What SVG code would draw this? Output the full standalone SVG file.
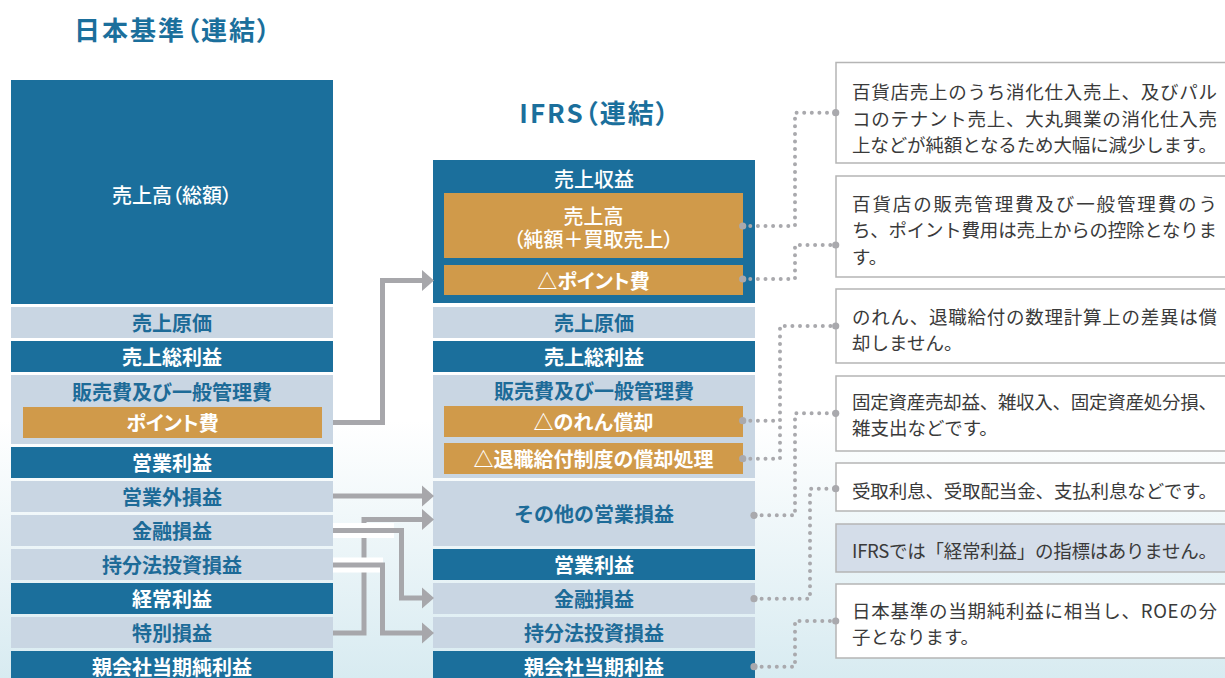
<svg xmlns="http://www.w3.org/2000/svg" width="1225" height="678" viewBox="0 0 1225 678">
<defs>
<linearGradient id="bg" x1="0" y1="0" x2="0" y2="1">
<stop offset="0" stop-color="#ffffff"/>
<stop offset="0.62" stop-color="#ffffff"/>
<stop offset="1" stop-color="#d8ebf1"/>
</linearGradient>
<marker id="ah" markerUnits="userSpaceOnUse" markerWidth="13" markerHeight="22" refX="0" refY="10.5" orient="auto" overflow="visible">
<path d="M0,0 L12,10.5 L0,21 Z" fill="#a7a7ab"/>
</marker>
<style>
.dk{fill:#1b6f9c}
.lt{fill:#c9d6e3}
.gd{fill:#d09a4a}
.t{font-family:"Noto Sans CJK JP","Noto Sans",sans-serif;text-anchor:middle;dominant-baseline:central;font-size:20px;font-weight:bold}
.tw{fill:#ffffff}
.tb{fill:#1d6b98}
.tm{font-weight:500;font-feature-settings:"palt"}
.pk{font-feature-settings:"palt"}
.hd{font-family:"Noto Sans CJK JP","Noto Sans",sans-serif;font-size:26px;font-weight:bold;fill:#1b6f9c;text-anchor:middle;dominant-baseline:central;letter-spacing:2px;font-feature-settings:"palt"}
.arr{fill:none;stroke:#a7a7ab;stroke-width:5;marker-end:url(#ah)}
.halo{fill:#ffffff}
.dot{fill:none;stroke:#a9a9ad;stroke-width:4;stroke-linecap:round;stroke-dasharray:0 7.6}
.bd{fill:#a9a9ad}
.nb{fill:#ffffff;stroke:#b5b5b5;stroke-width:1.5}
.nb2{fill:#d4dde9;stroke:#b5b5b5;stroke-width:1.5}
.nt{font-family:"Noto Sans CJK JP","Noto Sans",sans-serif;font-size:18.5px;fill:#3a3a3a;dominant-baseline:central}
</style>
</defs>
<rect x="0" y="0" width="1225" height="678" fill="url(#bg)"/>

<g id="headers">
<text class="hd" x="173" y="28">日本基準（連結）</text>
<text class="hd" x="595" y="111">IFRS（連結）</text>
</g>

<g id="jgaap">
<g id="j-sales"><rect class="dk" x="11" y="80" width="322" height="224"/><text class="t tw tm" x="172" y="194">売上高（総額）</text></g>
<g id="j-cogs"><rect class="lt" x="11" y="307" width="322" height="31"/><text class="t tb" x="172" y="322.5">売上原価</text></g>
<g id="j-gross"><rect class="dk" x="11" y="341" width="322" height="31"/><text class="t tw" x="172" y="356.5">売上総利益</text></g>
<g id="j-sga"><rect class="lt" x="11" y="375" width="322" height="69"/><text class="t tb" x="172" y="391">販売費及び一般管理費</text></g>
<g id="j-point"><rect class="gd" x="23" y="407" width="299" height="31"/><text class="t tw pk" x="172.5" y="422.5">ポイント費</text></g>
<g id="j-op"><rect class="dk" x="11" y="447" width="322" height="31"/><text class="t tw" x="172" y="462.5">営業利益</text></g>
<g id="j-nonop"><rect class="lt" x="11" y="481" width="322" height="31"/><text class="t tb" x="172" y="496.5">営業外損益</text></g>
<g id="j-fin"><rect class="lt" x="11" y="515" width="322" height="31"/><text class="t tb" x="172" y="530.5">金融損益</text></g>
<g id="j-eq"><rect class="lt" x="11" y="549" width="322" height="31"/><text class="t tb" x="172" y="564.5">持分法投資損益</text></g>
<g id="j-ord"><rect class="dk" x="11" y="583" width="322" height="31"/><text class="t tw" x="172" y="598.5">経常利益</text></g>
<g id="j-ext"><rect class="lt" x="11" y="617" width="322" height="31"/><text class="t tb" x="172" y="632.5">特別損益</text></g>
<g id="j-net"><rect class="dk" x="11" y="651" width="322" height="31"/><text class="t tw" x="172" y="666.5">親会社当期純利益</text></g>
</g>

<g id="ifrs">
<g id="i-rev"><rect class="dk" x="433" y="160" width="322" height="143"/><text class="t tw tm" x="594" y="178.5">売上収益</text></g>
<g id="i-sales"><rect class="gd" x="444" y="193" width="299" height="65"/><text class="t tw tm" x="593.5" y="215.5">売上高</text><text class="t tw tm" x="593.5" y="238.5">（純額＋買取売上）</text></g>
<g id="i-point"><rect class="gd" x="444" y="265" width="299" height="30"/><text class="t tw pk" x="593.5" y="280">△ポイント費</text></g>
<g id="i-cogs"><rect class="lt" x="433" y="307" width="322" height="31"/><text class="t tb" x="594" y="322.5">売上原価</text></g>
<g id="i-gross"><rect class="dk" x="433" y="341" width="322" height="31"/><text class="t tw" x="594" y="356.5">売上総利益</text></g>
<g id="i-sga"><rect class="lt" x="433" y="375" width="322" height="103"/><text class="t tb" x="594" y="390">販売費及び一般管理費</text></g>
<g id="i-gw"><rect class="gd" x="444" y="406" width="299" height="31"/><text class="t tw" x="593.5" y="421.5">△のれん償却</text></g>
<g id="i-ret"><rect class="gd" x="444" y="443" width="299" height="31"/><text class="t tw" x="593.5" y="458.5">△退職給付制度の償却処理</text></g>
<g id="i-other"><rect class="lt" x="433" y="481" width="322" height="65"/><text class="t tb" x="594" y="513.5">その他の営業損益</text></g>
<g id="i-op"><rect class="dk" x="433" y="549" width="322" height="31"/><text class="t tw" x="594" y="564.5">営業利益</text></g>
<g id="i-fin"><rect class="lt" x="433" y="583" width="322" height="31"/><text class="t tb" x="594" y="598.5">金融損益</text></g>
<g id="i-eq"><rect class="lt" x="433" y="617" width="322" height="31"/><text class="t tb" x="594" y="632.5">持分法投資損益</text></g>
<g id="i-net"><rect class="dk" x="433" y="651" width="322" height="31"/><text class="t tw" x="594" y="666.5">親会社当期利益</text></g>
</g>

<g id="notes">
<g id="n1"><rect class="nb" x="836" y="62.5" width="400" height="100.5"/>
<text class="nt" x="852" y="91" textLength="365" lengthAdjust="spacing">百貨店売上のうち消化仕入売上、及びパル</text>
<text class="nt" x="852" y="117.5" textLength="365" lengthAdjust="spacing">コのテナント売上、大丸興業の消化仕入売</text>
<text class="nt" x="852" y="144" textLength="365" lengthAdjust="spacing">上などが純額となるため大幅に減少します。</text></g>
<g id="n2"><rect class="nb" x="836" y="176" width="400" height="101"/>
<text class="nt" x="852" y="202.5" textLength="365" lengthAdjust="spacing">百貨店の販売管理費及び一般管理費のう</text>
<text class="nt" x="852" y="229" textLength="365" lengthAdjust="spacing">ち、ポイント費用は売上からの控除となりま</text>
<text class="nt" x="852" y="255.5">す。</text></g>
<g id="n3"><rect class="nb" x="836" y="289" width="400" height="74"/>
<text class="nt" x="852" y="316" textLength="365" lengthAdjust="spacing">のれん、退職給付の数理計算上の差異は償</text>
<text class="nt" x="852" y="342">却しません。</text></g>
<g id="n4"><rect class="nb" x="836" y="376" width="400" height="75"/>
<text class="nt" x="852" y="400.5" textLength="365" lengthAdjust="spacing">固定資産売却益、雑収入、固定資産処分損、</text>
<text class="nt" x="852" y="427">雑支出などです。</text></g>
<g id="n5"><rect class="nb" x="836" y="463" width="400" height="48"/>
<text class="nt" x="852" y="489.5" textLength="365" lengthAdjust="spacing">受取利息、受取配当金、支払利息などです。</text></g>
<g id="n6"><rect class="nb2" x="836" y="524" width="400" height="48"/>
<text class="nt" x="852" y="550" textLength="365" lengthAdjust="spacing">IFRSでは「経常利益」の指標はありません。</text></g>
<g id="n7"><rect class="nb" x="836" y="584" width="400" height="74"/>
<text class="nt" x="852" y="609.5" textLength="365" lengthAdjust="spacing">日本基準の当期純利益に相当し、ROEの分</text>
<text class="nt" x="852" y="636">子となります。</text></g>
</g>

<g id="connectors">
<path class="arr" d="M333,422.5 H382.5 V280.5 H422"/>
<path class="arr" d="M333,496 H422"/>
<path class="arr" d="M333,633 H364 V519.5 H422"/>
<rect class="halo" x="333" y="523" width="61" height="15"/>
<path class="arr" d="M333,530.5 H401.5 V598 H422"/>
<rect class="halo" x="333" y="557.5" width="50" height="15"/>
<path class="arr" d="M333,565 H382.5 V633 H422"/>

<path class="dot" d="M742.7,226 H795 V112.7 H835.7"/>
<path class="dot" d="M742.7,279 H795 V245 H835.7"/>
<path class="dot" d="M742.7,458.7 H780 V326 H835.7"/>
<path class="dot" d="M742.7,420.7 H780"/>
<path class="dot" d="M754,515.3 H795 V413.3 H835.7"/>
<path class="dot" d="M754,598.7 H810 V488.7 H835.7"/>
<path class="dot" d="M754,666.7 H795 V621 H835.7"/>
<circle class="bd" cx="742.7" cy="226" r="3.6"/>
<circle class="bd" cx="742.7" cy="279" r="3.6"/>
<circle class="bd" cx="742.7" cy="420.7" r="3.6"/>
<circle class="bd" cx="742.7" cy="458.7" r="3.6"/>
<circle class="bd" cx="754" cy="515.3" r="3.6"/>
<circle class="bd" cx="754" cy="598.7" r="3.6"/>
<circle class="bd" cx="754" cy="666.7" r="3.6"/>
<circle class="bd" cx="835.7" cy="112.7" r="3.6"/>
<circle class="bd" cx="835.7" cy="245" r="3.6"/>
<circle class="bd" cx="835.7" cy="326" r="3.6"/>
<circle class="bd" cx="835.7" cy="413.3" r="3.6"/>
<circle class="bd" cx="835.7" cy="488.7" r="3.6"/>
<circle class="bd" cx="835.7" cy="621" r="3.6"/>
</g>
</svg>
